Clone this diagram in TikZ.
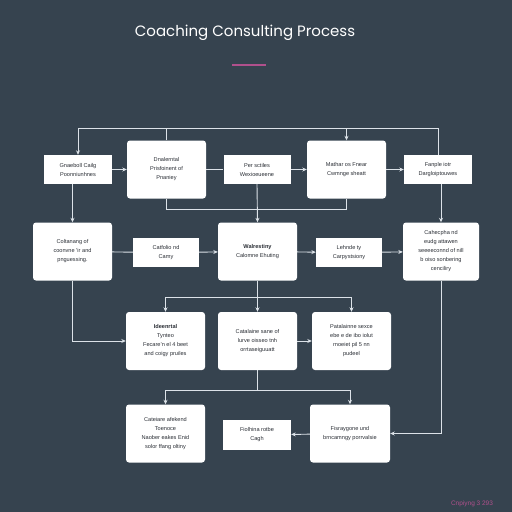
\documentclass[tikz,border=0pt]{standalone}
\usepackage{fontspec}
\setmainfont{Liberation Sans}
\newfontfamily\titlefont{Poppins}
\usepackage{tikz}
\usetikzlibrary{arrows.meta,positioning}
\definecolor{bgslate}{HTML}{36434F}
\definecolor{linegray}{HTML}{DCE2E8}
\definecolor{inkdark}{HTML}{2A2E35}
\definecolor{accpink}{HTML}{B0508C}

\begin{document}
\begin{tikzpicture}[x=1pt, y=-1pt, >={Stealth[length=4.5pt,width=4pt]},
  smallbox/.style={draw=none, fill=white, text=inkdark, align=center,
    minimum width=67pt, minimum height=29pt, inner sep=0pt,
    font=\fontsize{5.6}{9}\selectfont},
  bigbox/.style={smallbox, rounded corners=3pt,
    minimum width=79pt, minimum height=58pt},
  link/.style={draw=linegray, line width=0.9pt},
  arr/.style={link, ->}]
% background
\fill[bgslate] (0,0) rectangle (512,512);
\node[text=white, font=\titlefont\fontsize{15}{18}\selectfont] (title) at (245,33)
  {Coaching Consulting Process};
\draw[accpink, line width=1.2pt] (232,65) -- (266,65);
% row 1
\node[smallbox, minimum width=68pt] (gather) at (78,169.5) {Gnaeboll Cailg\\Poonniunhnes};
\node[bigbox] (define) at (166.5,169.5) {Dnalerntal\\Prisfoinent of\\Pnaniey};
\node[smallbox] (scope) at (257,169.5) {Per sctiles\\Wexioeueene};
\node[bigbox] (method) at (346.5,169.5) {Mathar os Fnear\\Cwmnge sheatt};
\node[smallbox, minimum width=68pt] (sample) at (438,169.5) {Fanple iotr\\Dargloiptouwes};
% row 2
\node[bigbox] (collect) at (72.5,251.5) {Coltanang of\\coonvne 'ir and\\pnguessing.};
\node[smallbox, minimum width=66pt] (portfolio) at (166,252.5) {Catfolio nd\\Camy};
\node[bigbox] (workshop) at (257.5,251.5) {\textbf{Walrestiny}\\Calomne Ehuting};
\node[smallbox, minimum width=66pt] (leader) at (349,252.5) {Lehnde ty\\Carpystsiony};
\node[bigbox, minimum width=76pt] (compare) at (441,251.5)
  {Cahecpha nd\\eudg attawen\\seeeeconnd of nill\\b oiso sonbering\\cenciliry};
% row 3
\node[bigbox] (ideal) at (165.5,341) {\textbf{Ideenrtal}\\Tynteo\\Fecare'n el 4 beet\\and coigy pruiles};
\node[bigbox] (catalog) at (257.5,341) {Catalaine sane of\\lurve oisseo tnh\\orrtaseiguuatt};
\node[bigbox] (balance) at (351.5,341) {Patalainne sexce\\ebe e de ibo iolut\\rnoeiet pil 5 nn\\pudeel};
% row 4
\node[bigbox] (create) at (165.5,433.5) {Cateiare afekend\\Toenoce\\Naober eakes Enid\\solor ffang oltiny};
\node[smallbox, minimum width=68pt, minimum height=30pt] (review) at (257,435) {Fiolhina rotbe\\Cagh};
\node[bigbox, minimum width=80pt] (progress) at (350,433.5) {Fisraygone und\\brncamngy porrvalsie};
\node[text=accpink, font=\fontsize{6.5}{8}\selectfont] (note) at (472,504) {Cnpiyng 3 293};
% loop lines
\coordinate (topline) at (0,128);
\coordinate (midline) at (0,209);
\coordinate (split3) at (0,297);
\coordinate (split4) at (0,390);
\draw[link] (define.north) -- (define.north |- topline);
\draw[arr] (define.north |- topline) -| (gather.north);
\draw[arr] (define.north |- topline) -| (method.north);
\draw[link] (method.north |- topline) -| (sample.north);
\draw[link] (define.south) |- (method.south |- midline) -- (method.south);
% row connections
\draw[arr] (gather) -- (define);
\draw[link] (define) -- (scope);
\draw[arr] (scope) -- (method);
\draw[arr] (method) -- (sample);
\draw[arr] (gather.south -| collect) -- (collect.north);
\draw[arr] (scope.south) -- (workshop.north);
\draw[arr] (sample.south -| compare) -- (compare.north);
\draw[link] (collect) -- (portfolio);
\draw[arr] (portfolio) -- (workshop);
\draw[arr] (workshop) -- (leader);
\draw[arr] (leader) -- (compare);
\draw[arr] (collect.south) |- (ideal.west);
\draw[arr] (workshop.south) -- (catalog.north);
\draw[arr] (workshop.south |- split3) -| (ideal.north);
\draw[arr] (workshop.south |- split3) -| (balance.north);
\draw[arr] (catalog) -- (balance);
\draw[link] (catalog.south) -- (catalog.south |- split4);
\draw[arr] (catalog.south |- split4) -| (create.north);
\draw[arr] (catalog.south |- split4) -| (progress.north);
\draw[arr] (compare.south) |- (progress.east);
\draw[arr] (progress) -- (review);
\end{tikzpicture}
\end{document}
